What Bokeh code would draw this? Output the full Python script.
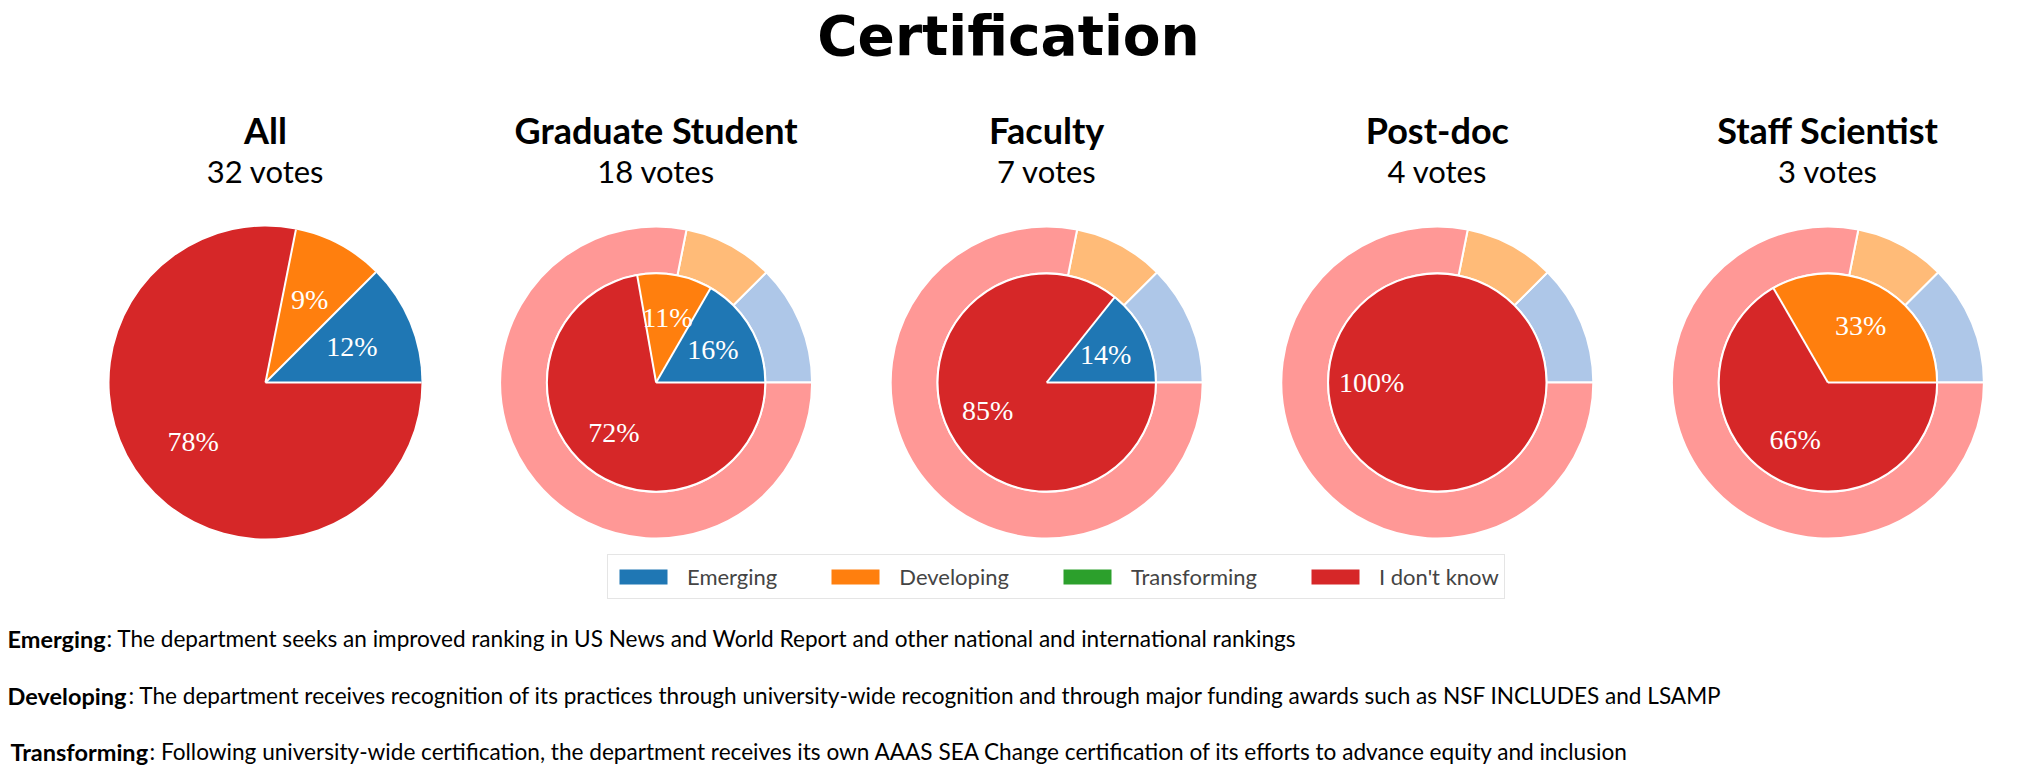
import numpy as np
from bokeh.plotting import figure
from bokeh.models import Range1d, ColumnDataSource, Legend, LegendItem
from bokeh.core.properties import value
from bokeh.embed import file_html
from bokeh.resources import INLINE

# ---------------- data ----------------
title_text = "Certification"
groups = ["All", "Graduate Student", "Faculty", "Post-doc", "Staff Scientist"]
categories = ["Emerging", "Developing", "Transforming", "I don't know"]
emerging = [4, 3, 1, 0, 0]
developing = [3, 2, 0, 0, 1]
transforming = [0, 0, 0, 0, 0]
dont_know = [25, 13, 6, 4, 2]
colors = ["#1f77b4", "#ff7f0e", "#2ca02c", "#d62728"]
light_colors = ["#aec7e8", "#ffbb78", "#98df8a", "#ff9896"]
def_terms = ["Emerging", "Developing", "Transforming"]
def_texts = [
    ": The department seeks an improved ranking in US News and World Report and other national and international rankings",
    ": The department receives recognition of its practices through university-wide recognition and through major funding awards such as NSF INCLUDES and LSAMP",
    ": Following university-wide certification, the department receives its own AAAS SEA Change certification of its efforts to advance equity and inclusion",
]

# ---------------- layout ----------------
W, H = 2033, 775
R = 156.0          # outer radius of each pie (px)
INNER = 0.7        # inner pie radius as fraction
PCT = 0.6          # label distance as fraction of pie radius
cx0, dx = 265.0, 390.6
cy_top = 382.0
SANS = "Lato"

counts = np.array([emerging, developing, transforming, dont_know], dtype=float).T
totals = counts.sum(axis=1)

p = figure(width=W, height=H, x_range=Range1d(0, W), y_range=Range1d(0, H),
           output_backend="svg", toolbar_location=None, min_border=0,
           x_axis_location=None, y_axis_location=None, outline_line_color=None,
           background_fill_color="white", border_fill_color="white")
p.xgrid.visible = False
p.ygrid.visible = False

def Y(v):
    return H - v

ring = dict(x=[], y=[], r0=[], r1=[], s=[], e=[], c=[])
pie = dict(x=[], y=[], r=[], s=[], e=[], c=[])
seg = dict(x0=[], y0=[], x1=[], y1=[])
outl = dict(x=[], y=[], r=[])
lab = dict(x=[], y=[], t=[])

all_frac = counts[0] / totals[0]
for gi, g in enumerate(groups):
    cx = cx0 + gi * dx
    cy = Y(cy_top)
    frac = counts[gi] / totals[gi]
    if gi == 0:
        pr = R
    else:
        pr = R * INNER
        a0 = 0.0
        for k, f in enumerate(all_frac):
            if f > 0:
                a1 = a0 + f * 2 * np.pi
                ring["x"].append(cx); ring["y"].append(cy)
                ring["r0"].append(pr); ring["r1"].append(R)
                ring["s"].append(a0); ring["e"].append(a1)
                ring["c"].append(light_colors[k])
                a0 = a1
        outl["x"].append(cx); outl["y"].append(cy); outl["r"].append(pr)
    a0 = 0.0
    nz = int((frac > 0).sum())
    for k, f in enumerate(frac):
        if f <= 0:
            continue
        a1 = a0 + f * 2 * np.pi
        pie["x"].append(cx); pie["y"].append(cy); pie["r"].append(pr)
        pie["s"].append(a0); pie["e"].append(a1); pie["c"].append(colors[k])
        if nz > 1:
            seg["x0"].append(cx); seg["y0"].append(cy)
            seg["x1"].append(cx + pr * np.cos(a0)); seg["y1"].append(cy + pr * np.sin(a0))
        m = (a0 + a1) / 2
        lab["x"].append(cx + PCT * pr * np.cos(m))
        lab["y"].append(cy + PCT * pr * np.sin(m))
        lab["t"].append(f"{int(np.floor(100 * counts[gi][k] / totals[gi] + 1e-9))}%")
        a0 = a1

p.annular_wedge(x="x", y="y", inner_radius="r0", outer_radius="r1", start_angle="s",
                end_angle="e", fill_color="c", line_color="white", line_width=2,
                source=ColumnDataSource(ring))
p.wedge(x="x", y="y", radius="r", start_angle="s", end_angle="e", fill_color="c",
        line_color=None, source=ColumnDataSource(pie))
p.segment(x0="x0", y0="y0", x1="x1", y1="y1", line_color="white", line_width=2,
          source=ColumnDataSource(seg))
p.circle(x="x", y="y", radius="r", fill_color=None, line_color="white", line_width=2,
         source=ColumnDataSource(outl))
p.text(x="x", y="y", text="t", text_color="white", text_font=value("Liberation Serif"),
       text_font_size="28px", text_align="center", text_baseline="middle",
       source=ColumnDataSource(lab))

# title
p.text(x=[1008], y=[Y(35)], text=[title_text], text_font=value("DejaVu Sans"),
       text_font_style="bold", text_font_size="55px", text_align="center",
       text_baseline="alphabetic", text_color="black")

# group names and votes
gx = [cx0 + i * dx for i in range(len(groups))]
p.text(x=gx, y=[Y(129)] * len(groups), text=groups, text_font=value(SANS),
       text_font_style="bold", text_font_size="36px", text_align="center",
       text_baseline="alphabetic", text_color="black")
p.text(x=gx, y=[Y(170)] * len(groups), text=[f"{int(t)} votes" for t in totals],
       text_font=value(SANS), text_font_size="31px", text_align="center",
       text_baseline="alphabetic", text_color="black")

# definitions
term_x = [7, 7, 10]
term_w = [99, 121, 139]
base_y = [638, 695, 751]
p.text(x=term_x, y=[Y(v) for v in base_y], text=def_terms, text_font=value(SANS),
       text_font_style="bold", text_font_size="23.5px", text_align="left",
       text_baseline="alphabetic", text_color="black")
p.text(x=[a + b for a, b in zip(term_x, term_w)], y=[Y(v) for v in base_y], text=def_texts,
       text_font=value(SANS), text_font_size="22.6px", text_align="left",
       text_baseline="alphabetic", text_color="black")

# legend (swatch-only renderers with no visible geometry)
items = []
for k, cat in enumerate(categories):
    r = p.quad(left=[np.nan], right=[np.nan], top=[np.nan], bottom=[np.nan],
               fill_color=colors[k], line_color=None)
    items.append(LegendItem(label=cat, renderers=[r]))
legend = Legend(items=items, orientation="horizontal", location=(607, 176),
                glyph_width=60, glyph_height=19, label_standoff=14, spacing=48,
                padding=5, margin=0, label_height=33,
                label_text_font=SANS, label_text_font_size="22px",
                border_line_color="#cccccc", border_line_width=1,
                background_fill_color="white", background_fill_alpha=1)
p.add_layout(legend, "center")

open("out.html", "w").write(file_html(p, INLINE))
